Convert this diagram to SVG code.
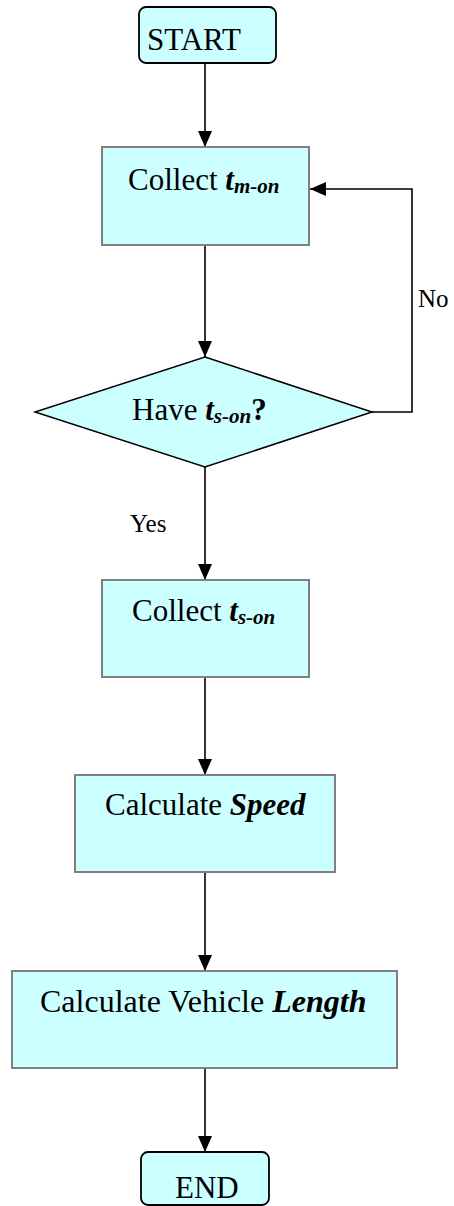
<svg xmlns="http://www.w3.org/2000/svg" width="454" height="1206" viewBox="0 0 454 1206">
<style>
text{font-family:"Liberation Serif","Times New Roman",serif;fill:#000}
.t{font-size:31px}
.lbl{font-size:25px}
.bi{font-weight:bold;font-style:italic}
.sub{font-size:21px;font-weight:bold;font-style:italic}
.box{fill:#CCFFFF;stroke:#808080;stroke-width:2}
.term{fill:#CCFFFF;stroke:#000;stroke-width:1.8}
.dec{fill:#CCFFFF;stroke:#000;stroke-width:1.5}
.conn{fill:none;stroke:#000;stroke-width:1.6}
</style>
<defs>
<marker id="ah" markerUnits="userSpaceOnUse" markerWidth="16" markerHeight="14" refX="16" refY="7" orient="auto">
<path d="M0,0 L16,7 L0,14 Z" fill="#000"/>
</marker>
</defs>
<rect width="454" height="1206" fill="#fff"/>
<g id="connectors">
<line class="conn" x1="205" y1="63" x2="205" y2="147" marker-end="url(#ah)"/>
<line class="conn" x1="205" y1="245" x2="205" y2="357" marker-end="url(#ah)"/>
<polyline class="conn" points="372,412 412,412 412,189 310,189" marker-end="url(#ah)"/>
<line class="conn" x1="205" y1="467" x2="205" y2="580" marker-end="url(#ah)"/>
<line class="conn" x1="205" y1="677" x2="205" y2="775" marker-end="url(#ah)"/>
<line class="conn" x1="205" y1="872" x2="205" y2="971" marker-end="url(#ah)"/>
<line class="conn" x1="205" y1="1068" x2="205" y2="1152" marker-end="url(#ah)"/>
<text class="lbl" x="418" y="307">No</text>
<text class="lbl" x="130" y="532">Yes</text>
</g>
<g id="start">
<rect class="term" x="139" y="7" width="137" height="56" rx="7"/>
<text class="t" x="147" y="50">START</text>
</g>
<g id="collect-m">
<rect class="box" x="102" y="147" width="207" height="98"/>
<text class="t" x="128" y="190">Collect <tspan class="bi">t</tspan><tspan class="sub" dy="3">m-on</tspan></text>
</g>
<g id="decision">
<polygon class="dec" points="205,357 372,412 205,467 35,412"/>
<text class="t" x="132" y="420">Have <tspan class="bi">t</tspan><tspan class="sub" dy="3">s-on</tspan><tspan dy="-3" font-weight="bold">?</tspan></text>
</g>
<g id="collect-s">
<rect class="box" x="102" y="580" width="207" height="97"/>
<text class="t" x="132" y="621">Collect <tspan class="bi">t</tspan><tspan class="sub" dy="3">s-on</tspan></text>
</g>
<g id="speed">
<rect class="box" x="75" y="775" width="260" height="97"/>
<text class="t" x="105" y="815">Calculate <tspan class="bi">Speed</tspan></text>
</g>
<g id="length">
<rect class="box" x="12" y="971" width="385" height="97"/>
<text class="t" x="40" y="1012" style="font-size:32px">Calculate Vehicle <tspan class="bi">Length</tspan></text>
</g>
<g id="end">
<rect class="term" x="141" y="1152" width="128" height="53" rx="7"/>
<text class="t" x="175" y="1198">END</text>
</g>
</svg>
